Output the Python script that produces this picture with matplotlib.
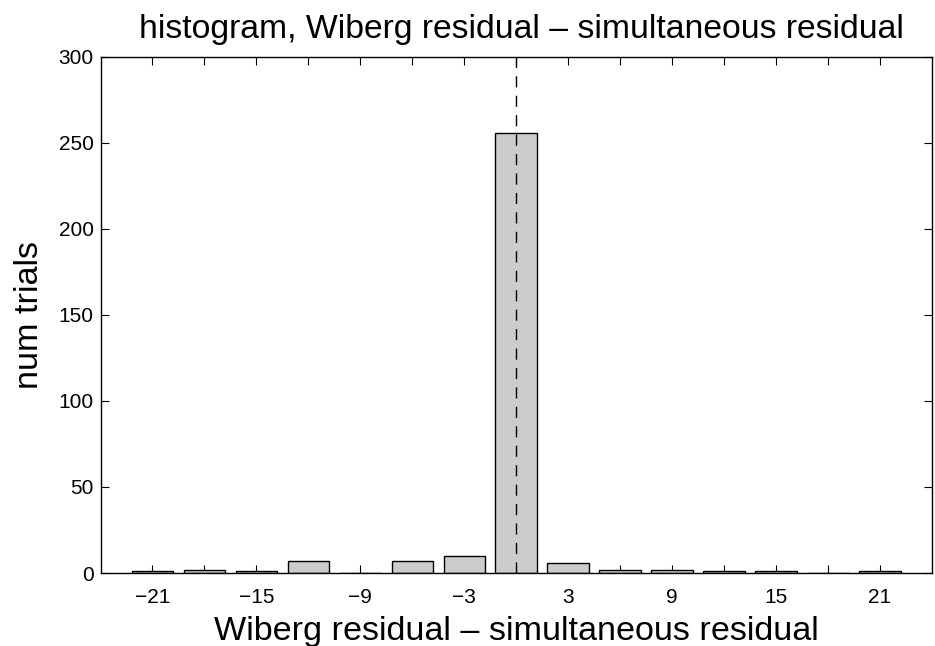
import numpy as np
import matplotlib
matplotlib.use("Agg")
import matplotlib.pyplot as plt

# ── Data ───────────────────────────────────────────────────────────────────────
BIN_CENTERS = [-21, -18, -15, -12, -9, -6, -3, 0, 3, 6, 9, 12, 15, 18, 21]
COUNTS      = [1, 2, 1, 7, 0, 7, 10, 256, 6, 2, 2, 1, 1, 0, 1]
XTICKS      = list(range(-21, 22, 3))
XTICK_LABELS = ["\u221221", "", "\u221215", "", "\u22129", "", "\u22123", "",
                "3", "", "9", "", "15", "", "21"]
YTICKS      = [0, 50, 100, 150, 200, 250, 300]
# ───────────────────────────────────────────────────────────────────────────────

plt.rcParams["font.family"] = ["Liberation Sans", "DejaVu Sans"]

fig = plt.figure(figsize=(9.35, 6.46), dpi=100)
ax = fig.add_axes([0.1075, 0.113, 0.8893, 0.7988])

ax.bar(BIN_CENTERS, COUNTS, width=2.4, color="#cccccc", edgecolor="black",
       linewidth=1.0, zorder=2)
ax.axvline(0, color="black", ls=(0, (8, 6)), lw=1.0, zorder=3)

ax.set_xlim(-24, 24)
ax.set_ylim(0, 300)
ax.set_xticks(XTICKS)
ax.set_xticklabels(XTICK_LABELS)
ax.set_yticks(YTICKS)
ax.tick_params(direction="in", top=True, right=True, length=6, width=0.8,
               labelsize=15)
ax.tick_params(axis="x", pad=11)
ax.tick_params(axis="y", pad=5)
for s in ax.spines.values():
    s.set_linewidth(1.0)

ax.set_title("histogram, Wiberg residual \u2013 simultaneous residual",
             fontsize=24.3, pad=14, x=0.5057)
ax.set_xlabel("Wiberg residual \u2013 simultaneous residual", fontsize=24.6, labelpad=6)
ax.set_ylabel("num trials", fontsize=24.6, labelpad=10)

fig.savefig("out.png", dpi=100)
